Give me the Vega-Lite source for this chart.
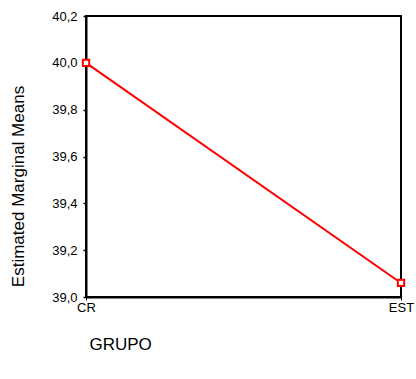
{
  "$schema": "https://vega.github.io/schema/vega-lite/v6.json",
  "autosize": {"type": "none"},
  "padding": {"left": 86, "top": 16, "right": 15, "bottom": 82},
  "width": 315,
  "height": 281,
  "background": "white",
  "config": {
    "font": "Liberation Sans",
    "view": {"stroke": "black", "strokeWidth": 2},
    "axis": {"grid": false, "domainColor": "black", "domainWidth": 2, "tickColor": "black", "labelColor": "black", "titleColor": "black", "labelFont": "Liberation Sans", "titleFont": "Liberation Sans", "titleFontWeight": "normal", "labelFontSize": 13, "titleFontSize": 17}
  },
  "data": {"values": [
    {"GRUPO": "CR", "mean": 40.0},
    {"GRUPO": "EST", "mean": 39.06}
  ]},
  "encoding": {
    "x": {"field": "GRUPO", "type": "nominal", "sort": null,
      "scale": {"type": "point", "padding": 0},
      "axis": {"title": "GRUPO", "labelAngle": 0, "tickSize": 3, "tickWidth": 1, "labelPadding": 1, "titleAnchor": "start", "titleAlign": "left", "titleX": 3, "titleY": 47, "titleBaseline": "middle"}},
    "y": {"field": "mean", "type": "quantitative",
      "scale": {"domain": [39.0, 40.2], "nice": false, "zero": false},
      "axis": {"title": "Estimated Marginal Means", "values": [39.0, 39.2, 39.4, 39.6, 39.8, 40.0, 40.2], "labelExpr": "replace(format(datum.value, '.1f'), '.', ',')", "tickSize": 3, "tickWidth": 1.5, "labelPadding": 6, "titleX": -68, "titleY": 170, "titleBaseline": "middle"}}
  },
  "layer": [
    {"mark": {"type": "line", "color": "#ff0000", "strokeWidth": 2}},
    {"mark": {"type": "point", "shape": "square", "filled": true, "fill": "white", "stroke": "#ff0000", "strokeWidth": 2, "size": 40, "opacity": 1}}
  ]
}
